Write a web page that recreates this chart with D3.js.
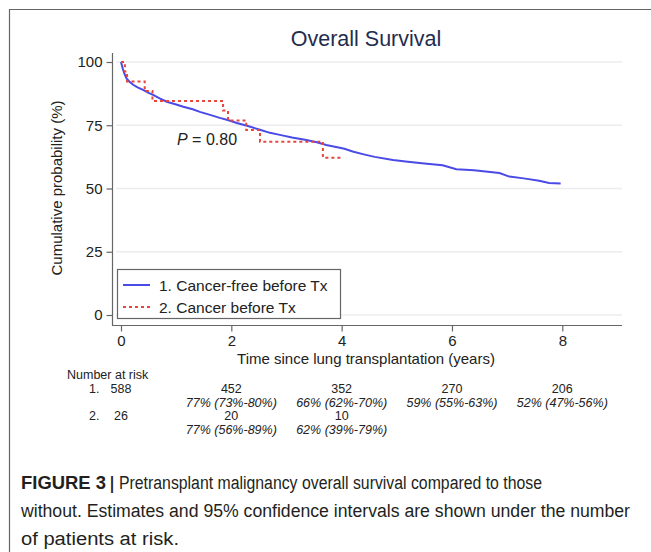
<!DOCTYPE html>
<html>
<head>
<meta charset="utf-8">
<script src="https://cdn.jsdelivr.net/npm/d3@7"></script>
<style>
  body { margin: 0; background: #fff; }
  svg text { font-family: "Liberation Sans", Arial, Helvetica, sans-serif; }
</style>
</head>
<body>
<svg id="chart" width="651" height="552"></svg>
<script>
// survival estimates (years, %)
const cancerFree = [
  [0, 100], [0.03, 97.5], [0.06, 95.5], [0.1, 93.5], [0.15, 92.3], [0.22, 91],
  [0.3, 90], [0.4, 89], [0.5, 87.8], [0.6, 86.8], [0.7, 85.6], [0.83, 84.3],
  [1.0, 83.2], [1.13, 82.3], [1.3, 81.3], [1.43, 80.3], [1.6, 79.2], [1.79, 77.9],
  [1.95, 77], [2.1, 75.9], [2.3, 74.7], [2.52, 73.2], [2.7, 72], [2.88, 71.2],
  [3.1, 70.2], [3.36, 69.2], [3.55, 68.3], [3.72, 67.2], [3.9, 66.4], [4.05, 65.7],
  [4.2, 64.6], [4.4, 63.5], [4.6, 62.5], [4.93, 61.3], [5.2, 60.6], [5.5, 59.9],
  [5.83, 59.2], [6.08, 57.6], [6.4, 57.2], [6.86, 56.1], [7.04, 54.7], [7.3, 54],
  [7.58, 53.1], [7.76, 52.2], [7.97, 52]
];
const cancerBefore = [
  [0, 100], [0.07, 96.2], [0.11, 92.3], [0.43, 88.5], [0.57, 84.6], [1.85, 80.8],
  [1.94, 76.9], [2.27, 73.1], [2.52, 68.5], [3.66, 62.2], [3.98, 62.2]
];

const xTicks = [0, 2, 4, 6, 8];
const yTicks = [0, 25, 50, 75, 100];
const seriesNames = ["1. Cancer-free before Tx", "2. Cancer before Tx"];

// number at risk table
const riskTimes1 = [0, 2, 4, 6, 8];
const riskCounts1 = [588, 452, 352, 270, 206];
const riskEst1 = ["", "77% (73%-80%)", "66% (62%-70%)", "59% (55%-63%)", "52% (47%-56%)"];
const riskTimes2 = [0, 2, 4];
const riskCounts2 = [26, 20, 10];
const riskEst2 = ["", "77% (56%-89%)", "62% (39%-79%)"];

const svg = d3.select("#chart");

// figure frame
svg.append("path")
    .attr("d", "M9.5,552 V9.5 H651")
    .attr("fill", "none")
    .attr("stroke", "#666")
    .attr("stroke-width", 1.2);

let x = d3.scaleLinear().domain([0, 8]).range([121, 562.3]);
let y = d3.scaleLinear().domain([0, 100]).range([315, 62]);

// grid
svg.append("g").selectAll("line")
    .data(yTicks)
    .enter().append("line")
    .attr("x1", 116).attr("x2", 622)
    .attr("y1", d => y(d)).attr("y2", d => y(d))
    .attr("stroke", "#ececec")
    .attr("stroke-width", 1.5);

// y axis
let yAxis = svg.append("g")
    .attr("transform", "translate(112.5,0)")
    .call(d3.axisLeft(y).tickValues(yTicks).tickSize(6).tickPadding(4));
yAxis.select(".domain").remove();
yAxis.append("line").attr("y1", 53).attr("y2", 325.5).attr("stroke", "#666").attr("stroke-width", 1.2);
yAxis.selectAll(".tick line").attr("stroke", "#666").attr("stroke-width", 1.2);
yAxis.selectAll(".tick text").attr("font-size", 15).attr("fill", "#222");

// x axis
let xAxis = svg.append("g")
    .attr("transform", "translate(0,325.5)")
    .call(d3.axisBottom(x).tickValues(xTicks).tickSize(6).tickPadding(4));
xAxis.select(".domain").remove();
xAxis.append("line").attr("x1", 112).attr("x2", 622).attr("stroke", "#666").attr("stroke-width", 1.2);
xAxis.selectAll(".tick line").attr("stroke", "#666").attr("stroke-width", 1.2);
xAxis.selectAll(".tick text").attr("font-size", 15).attr("fill", "#222");

// titles
svg.append("text")
    .attr("x", 366).attr("y", 46)
    .attr("text-anchor", "middle")
    .attr("font-size", 21.5)
    .attr("fill", "#1f2d4f")
    .text("Overall Survival");

svg.append("text")
    .attr("transform", "translate(62,188) rotate(-90)")
    .attr("text-anchor", "middle")
    .attr("font-size", 15)
    .attr("fill", "#222")
    .text("Cumulative probability (%)");

svg.append("text")
    .attr("x", 366).attr("y", 364)
    .attr("text-anchor", "middle")
    .attr("font-size", 15)
    .attr("fill", "#222")
    .text("Time since lung transplantation (years)");

// curves
let smoothLine = d3.line()
    .x(d => x(d[0]))
    .y(d => y(d[1]));

let stepLine = d3.line()
    .x(d => x(d[0]))
    .y(d => y(d[1]))
    .curve(d3.curveStepAfter);

svg.append("path")
    .datum(cancerFree)
    .attr("d", smoothLine)
    .attr("fill", "none")
    .attr("stroke", "#4a4ae6")
    .attr("stroke-width", 2);

svg.append("path")
    .datum(cancerBefore)
    .attr("d", stepLine)
    .attr("fill", "none")
    .attr("stroke", "#e8453c")
    .attr("stroke-width", 2)
    .attr("stroke-dasharray", "3,3");

// p value
let pText = svg.append("text")
    .attr("x", 177).attr("y", 145)
    .attr("font-size", 16)
    .attr("fill", "#222");
pText.append("tspan").attr("font-style", "italic").text("P");
pText.append("tspan").text(" = 0.80");

// legend
let legend = svg.append("g");
legend.append("rect")
    .attr("x", 117.5).attr("y", 269.5)
    .attr("width", 223).attr("height", 49)
    .attr("fill", "#fff")
    .attr("stroke", "#666")
    .attr("stroke-width", 1.2);
let legendColors = ["#4a4ae6", "#e8453c"];
seriesNames.forEach(function(name, i){
    let ly = 285 + i * 22;
    legend.append("line")
        .attr("x1", 123).attr("x2", 150)
        .attr("y1", ly).attr("y2", ly)
        .attr("stroke", legendColors[i])
        .attr("stroke-width", 2)
        .attr("stroke-dasharray", i == 1 ? "3,3" : null);
    legend.append("text")
        .attr("x", 159).attr("y", ly + 5.5)
        .attr("font-size", 15.5)
        .attr("fill", "#222")
        .text(name);
});

// number at risk
let risk = svg.append("g").attr("font-size", 12.5).attr("fill", "#222");
risk.append("text").attr("x", 67).attr("y", 379).text("Number at risk");

function riskRow(label, times, counts, est, baseY){
    risk.append("text").attr("x", 89).attr("y", baseY).text(label);
    times.forEach(function(t, i){
        risk.append("text")
            .attr("x", x(t)).attr("y", baseY)
            .attr("text-anchor", "middle")
            .text(counts[i]);
        if (est[i]){
            risk.append("text")
                .attr("x", x(t)).attr("y", baseY + 13.5)
                .attr("text-anchor", "middle")
                .attr("font-style", "italic")
                .text(est[i]);
        }
    });
}
riskRow("1.", riskTimes1, riskCounts1, riskEst1, 393);
riskRow("2.", riskTimes2, riskCounts2, riskEst2, 420);

// caption (condensed face squeezed to the printed widths)
let cap = svg.append("g").attr("font-size", 18).attr("fill", "#231f20");
function capText(str, cx, cy, len, bold){
    cap.append("text")
        .attr("x", cx).attr("y", cy)
        .attr("textLength", len)
        .attr("lengthAdjust", "spacingAndGlyphs")
        .attr("font-weight", bold ? "bold" : null)
        .text(str);
}
capText("FIGURE 3", 21, 489, 85, true);
capText("|", 110, 489, 4, true);
capText("Pretransplant malignancy overall survival compared to those", 119, 489, 423, false);
capText("without. Estimates and 95% confidence intervals are shown under the number", 21, 517, 609, false);
capText("of patients at risk.", 21, 545, 158, false);
</script>
</body>
</html>
